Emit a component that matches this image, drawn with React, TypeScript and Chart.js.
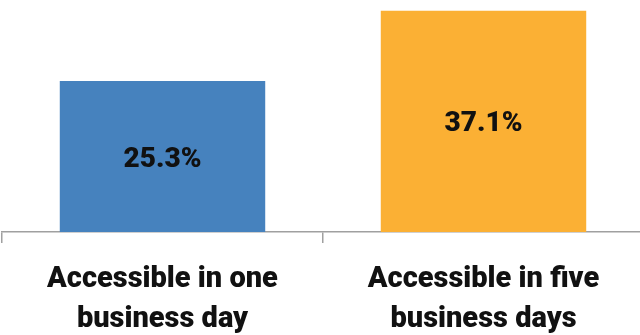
import React, { useEffect, useRef } from "react";
import { Chart, registerables } from "chart.js";

Chart.register(...registerables);

const categories: string[][] = [
  ["Accessible in one", "business day"],
  ["Accessible in five", "business days"],
];
const values: number[] = [25.3, 37.1];
const valueLabels: string[] = ["25.3%", "37.1%"];
const barColors: string[] = ["#4682BE", "#FBB034"];

const labelPlugin = {
  id: "barLabels",
  afterDatasetsDraw(chart: any) {
    const ctx = chart.ctx;
    const meta = chart.getDatasetMeta(0);
    ctx.save();
    ctx.font = "900 28px Roboto";
    ctx.fillStyle = "#111111";
    ctx.textAlign = "center";
    ctx.textBaseline = "middle";
    meta.data.forEach((bar: any, i: number) => {
      const y = (bar.y + bar.base) / 2 + 3;
      ctx.fillText(valueLabels[i], bar.x, y);
    });
    ctx.restore();
  },
};

export default function App() {
  const ref = useRef<HTMLCanvasElement | null>(null);
  useEffect(() => {
    if (!ref.current) return;
    const chart = new Chart(ref.current, {
      type: "bar",
      data: {
        labels: categories,
        datasets: [
          {
            data: values,
            backgroundColor: barColors,
            barPercentage: 0.64,
            categoryPercentage: 1,
          },
        ],
      },
      options: {
        animation: false,
        responsive: false,
        layout: { padding: { left: 2, right: 0, top: 0, bottom: 0 } },
        plugins: { legend: { display: false }, tooltip: { enabled: false } },
        scales: {
          x: {
            offset: true,
            grid: {
              offset: true,
              drawOnChartArea: false,
              drawTicks: true,
              tickLength: 11,
              color: "#A0A0A0",
              lineWidth: 1.5,
            },
            border: { display: true, color: "#A0A0A0", width: 1.5 },
            ticks: {
              color: "#111111",
              padding: 16,
              maxRotation: 0,
              autoSkip: false,
              font: { family: "Roboto", weight: "900", size: 29, lineHeight: 1.4 },
            },
            afterFit: (scale: any) => {
              scale.height = 103;
            },
          },
          y: {
            display: false,
            min: 0,
            max: 38.9,
          },
        },
      },
      plugins: [labelPlugin],
    });
    return () => chart.destroy();
  }, []);
  return (
    <div style={{ position: "fixed", left: 0, top: 0, width: 640, height: 335, background: "#fff" }}>
      <canvas ref={ref} width={644} height={335} style={{ width: 644, height: 335 }} />
    </div>
  );
}
